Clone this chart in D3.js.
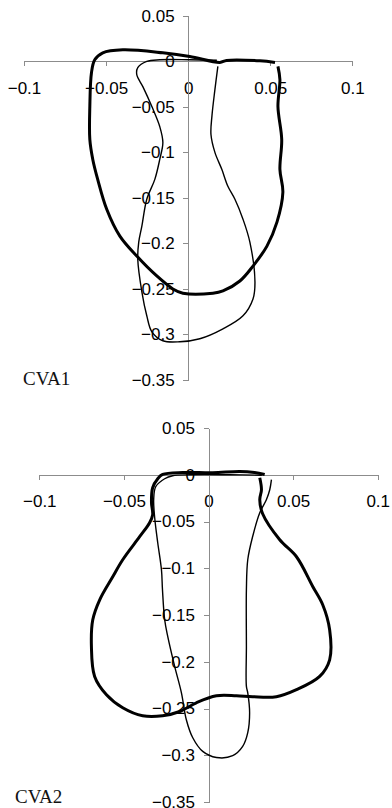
<!DOCTYPE html>
<meta charset="utf-8">
<style>
body { margin: 0; background: #fff; }
.axis path, .axis line { stroke: #8c8c8c; stroke-width: 1; shape-rendering: crispEdges; }
.axis text { font-family: "Liberation Sans", Arial, sans-serif; font-size: 17px; fill: #000; }
.thick { fill: none; stroke: #000; stroke-width: 3; stroke-linejoin: round; }
.thin { fill: none; stroke: #000; stroke-width: 1.4; stroke-linejoin: round; }
.caption { font-family: "Liberation Serif", "Times New Roman", serif; font-size: 19px; fill: #111; }
</style>
<svg width="392" height="808"></svg>
<script src="https://cdn.jsdelivr.net/npm/d3@7"></script>
<script>
var xTicks = [-0.1, -0.05, 0, 0.05, 0.1];
var yTicks = [0.05, 0, -0.05, -0.1, -0.15, -0.2, -0.25, -0.3, -0.35];
var captions = ["CVA1", "CVA2"];

// CVA1 outlines, [x, y]
var cva1Thick = [
  [0.0547,-0.0057],[0.0559,-0.0202],[0.0547,-0.0498],[0.0570,-0.0859],[0.0559,-0.1187],
  [0.0577,-0.1439],[0.0541,-0.1767],[0.0480,-0.2030],[0.0395,-0.2249],[0.0315,-0.2413],
  [0.0212,-0.2522],[0.0151,-0.2547],[-0.0032,-0.2547],[-0.0093,-0.2500],[-0.0191,-0.2358],
  [-0.0313,-0.2139],[-0.0416,-0.1920],[-0.0496,-0.1625],[-0.0551,-0.1297],[-0.0581,-0.1078],
  [-0.0599,-0.0859],[-0.0599,-0.0498],[-0.0589,-0.0126],[-0.0569,0.0016],[-0.0520,0.0093],
  [-0.0398,0.0126],[-0.0154,0.0093],[0.0010,0.0053],[0.0193,-0.0013],[0.0234,0.0009],
  [0.0437,0.0005],[0.0529,-0.0013]
];
var cva1Thin = [
  [0.0181,-0.0057],[0.0163,-0.0312],[0.0145,-0.0600],[0.0139,-0.0804],[0.0163,-0.1001],
  [0.0205,-0.1187],[0.0242,-0.1373],[0.0285,-0.1516],[0.0334,-0.1734],[0.0376,-0.1986],
  [0.0407,-0.2424],[0.0395,-0.2610],
  [0.0334,-0.2795],[0.0212,-0.2938],[0.0071,-0.3047],[-0.0051,-0.3080],[-0.0154,-0.3069],
  [-0.0221,-0.2971],[-0.0252,-0.2795],[-0.0282,-0.2533],[-0.0307,-0.2172],[-0.0301,-0.1986],
  [-0.0282,-0.1811],[-0.0252,-0.1515],[-0.0203,-0.1297],[-0.0173,-0.1078],[-0.0154,-0.0892],
  [-0.0173,-0.0717],[-0.0221,-0.0498],[-0.0276,-0.0279],[-0.0313,-0.0148],[-0.0307,-0.0071],
  [-0.0252,-0.0002],[-0.0173,0.0016],[0.0010,0.0016],[0.0175,0.0011]
];

// CVA2 outlines, [x, y]
var cva2Thick = [
  [0.0303,-0.0032],[0.0313,-0.0160],[0.0303,-0.0267],[0.0320,-0.0417],[0.0421,-0.0695],
  [0.0520,-0.0877],[0.0616,-0.1195],[0.0675,-0.1390],[0.0716,-0.1658],[0.0716,-0.1979],
  [0.0657,-0.2157],[0.0520,-0.2299],[0.0401,-0.2374],[0.0261,-0.2374],[0.0165,-0.2364],
  [0.0047,-0.2364],[-0.0072,-0.2439],[-0.0170,-0.2532],[-0.0271,-0.2578],[-0.0389,-0.2578],
  [-0.0507,-0.2492],[-0.0603,-0.2353],[-0.0673,-0.2157],[-0.0692,-0.1836],[-0.0684,-0.1551],
  [-0.0643,-0.1337],[-0.0566,-0.1091],[-0.0507,-0.0909],[-0.0407,-0.0663],[-0.0348,-0.0513],
  [-0.0330,-0.0428],[-0.0337,-0.0299],[-0.0330,-0.0139],[-0.0300,-0.0043],[-0.0271,0.0003],
  [-0.0152,0.0024],[0.0025,0.0021],[0.0184,0.0035],[0.0272,0.0024],[0.0332,0.0003]
];
var cva2Thin = [
  [0.0372,-0.0053],[0.0362,-0.0160],[0.0342,-0.0267],[0.0303,-0.0406],[0.0261,-0.0660],
  [0.0232,-0.0909],[0.0224,-0.1230],[0.0224,-0.1836],[0.0224,-0.2264],[0.0232,-0.2332],
  [0.0243,-0.2545],[0.0232,-0.2759],[0.0202,-0.2906],[0.0143,-0.3005],[0.0047,-0.3024],
  [-0.0034,-0.2959],[-0.0093,-0.2813],[-0.0131,-0.2620],[-0.0160,-0.2332],[-0.0200,-0.2050],
  [-0.0241,-0.1729],[-0.0259,-0.1551],[-0.0272,-0.1230],[-0.0278,-0.1016],[-0.0300,-0.0727],
  [-0.0318,-0.0460],[-0.0324,-0.0267],[-0.0312,-0.0128],[-0.0259,-0.0043],[-0.0212,-0.0011],
  [-0.0111,0.0],[0.0125,0.0],[0.0315,-0.0005]
];

var svg = d3.select("svg");

var panels = [
  {thick: cva1Thick, thin: cva1Thin, caption: captions[0],
   xr: [24, 352.3], yr: [15.7, 380], capX: 23, capY: 385},
  {thick: cva2Thick, thin: cva2Thin, caption: captions[1],
   xr: [39.3, 377.7], yr: [428, 802], capX: 15, capY: 803}
];

function fmt(d) {
  return d3.format("")(d).replace("-", "\u2212");
}

panels.forEach(function(p) {
  var x = d3.scaleLinear().domain([-0.1, 0.1]).range(p.xr),
      y = d3.scaleLinear().domain([0.05, -0.35]).range(p.yr);

  var g = svg.append("g");

  // x axis across y = 0
  var gx = g.append("g")
      .attr("class", "axis")
      .attr("transform", "translate(0," + y(0) + ")")
      .call(d3.axisBottom(x).tickValues(xTicks).tickSize(5).tickSizeOuter(0).tickFormat(fmt));
  gx.selectAll("text").attr("dy", null).attr("y", 32.5);

  // y axis across x = 0
  var gy = g.append("g")
      .attr("class", "axis")
      .attr("transform", "translate(" + x(0) + ",0)")
      .call(d3.axisLeft(y).tickValues(yTicks).tickSize(5).tickSizeOuter(0).tickFormat(fmt));
  gy.selectAll("text").attr("x", -13.5);

  var line = d3.line()
      .x(function(d) { return x(d[0]); })
      .y(function(d) { return y(d[1]); })
      .curve(d3.curveCatmullRom.alpha(0.5));

  g.append("path").datum(p.thin).attr("class", "thin").attr("d", line);
  g.append("path").datum(p.thick).attr("class", "thick").attr("d", line);

  g.append("text")
      .attr("class", "caption")
      .attr("x", p.capX)
      .attr("y", p.capY)
      .text(p.caption);
});
</script>
